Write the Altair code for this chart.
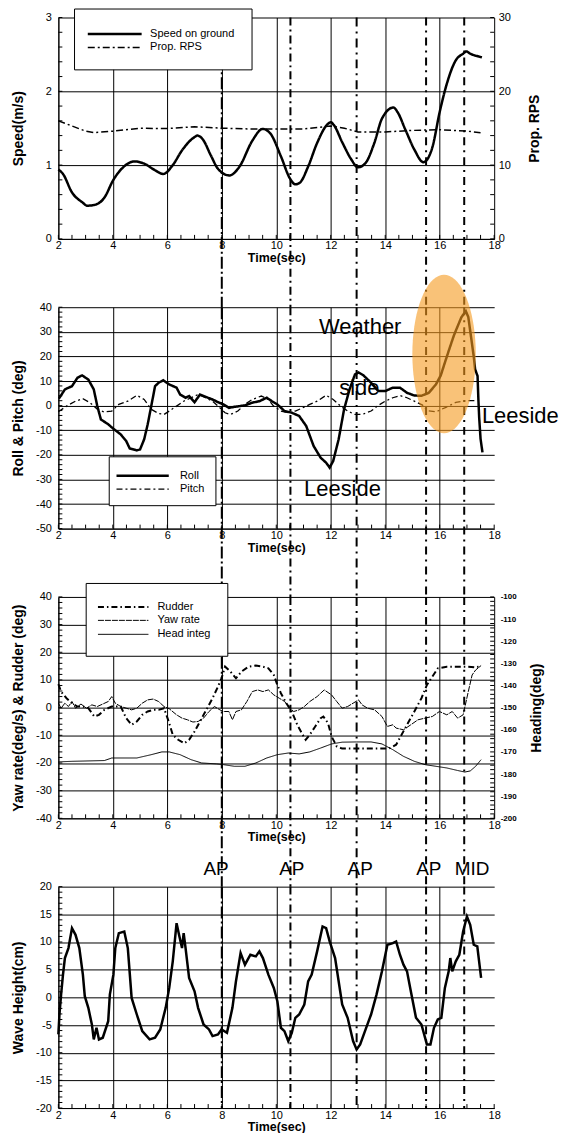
import altair as alt
import numpy as np
import pandas as pd

FONT = "Liberation Sans"
W, H, GAP = 437, 222, 68.5

# ---------------- data ----------------
speed_t = [2.0, 2.17, 2.5, 2.9, 3.05, 3.32, 3.69, 4.02, 4.35, 4.8, 5.15, 5.55, 5.85, 6.2, 6.54, 7.0, 7.1, 7.3,
           7.6, 7.86, 8.28, 8.65, 9.12, 9.5, 9.78, 10.17, 10.5, 10.7, 10.86, 11.17, 11.5, 11.9, 12.0, 12.1, 12.42,
           12.75, 13.0, 13.28, 13.6, 13.88, 14.3, 14.45, 14.74, 15.07, 15.4, 15.55, 15.73, 16.0, 16.26, 16.59,
           16.86, 16.98, 17.12, 17.45, 17.55]
speed_v = [0.94, 0.88, 0.63, 0.49, 0.45, 0.46, 0.56, 0.80, 0.96, 1.05, 1.02, 0.93, 0.88, 1.0, 1.2, 1.38, 1.40, 1.35,
           1.13, 0.95, 0.86, 0.98, 1.33, 1.49, 1.43, 1.12, 0.82, 0.74, 0.76, 0.98, 1.30, 1.56, 1.58, 1.55, 1.31,
           1.08, 0.97, 1.03, 1.30, 1.63, 1.78, 1.72, 1.48, 1.21, 1.04, 1.08, 1.24, 1.72, 2.10, 2.42,
           2.51, 2.54, 2.51, 2.47, 2.46]

rps_t = [2.0, 2.5, 3.0, 3.3, 4.0, 5.0, 6.0, 7.0, 8.0, 9.0, 10.0, 11.0, 12.0, 12.5, 13.0, 14.0, 15.0, 16.0, 17.0, 17.5]
rps_v = [16.0, 15.3, 14.6, 14.4, 14.6, 15.0, 14.95, 15.2, 15.0, 14.9, 14.9, 14.9, 15.3, 15.0, 14.5, 14.5, 14.7,
         14.8, 14.6, 14.4]

roll_t = [2.0, 2.04, 2.24, 2.5, 2.7, 2.87, 3.1, 3.3, 3.43, 3.56, 3.83, 4.02, 4.29, 4.49, 4.62, 4.88, 5.0, 5.15,
          5.28, 5.41, 5.55, 5.68, 5.85, 6.07, 6.34, 6.47, 6.67, 6.8, 7.0, 7.2, 7.4, 7.66, 7.86, 8.06, 8.26, 8.46,
          8.85, 9.12, 9.38, 9.65, 9.84, 10.04, 10.3, 10.57, 10.84, 11.1, 11.37, 11.63, 11.83, 11.96, 12.09, 12.29,
          12.49, 12.69, 12.89, 13.02, 13.2, 13.48, 13.75, 14.0, 14.28, 14.54, 14.8, 15.07, 15.33, 15.6, 15.86,
          16.04, 16.19, 16.35, 16.52, 16.66, 16.8, 16.96, 17.05, 17.15, 17.25, 17.3, 17.39, 17.42, 17.45, 17.5,
          17.57]
roll_v = [3.0, 3.2, 6.6, 7.9, 11.3, 12.3, 10.6, 6.6, -0.2, -5.6, -7.6, -9.4, -11.7, -14.4, -17.4, -18.2, -17.8,
          -13.7, -7.6, -0.2, 7.9, 9.3, 10.3, 8.6, 7.3, 4.5, 3.2, 3.9, 1.4, 4.5, 3.6, 2.5, 1.4, 0.5, -0.9, -0.5,
          0.1, 1.2, 1.8, 3.2, 1.8, 0.5, -2.2, -2.9, -4.2, -8.3, -16.4, -21.2, -23.2, -25.2, -22.5, -13.7,
          -1.5, 6.6, 12.7, 13.5, 12.3, 9.3, 5.9, 5.9, 7.3, 7.3, 5.2, 4.1, 4.0, 5.2, 8.6,
          12.3, 17.5, 22.9, 28.5, 32.3, 36.0, 38.4, 36.0, 28.0, 20.0, 14.8, 12.0, 2.6, -5.0, -13.5,
          -19.0]

pitch_t = [2.0, 2.04, 2.3, 2.63, 2.9, 3.16, 3.43, 3.69, 3.96, 4.22, 4.55, 4.88, 5.15, 5.41, 5.68, 5.88, 6.07,
           6.34, 6.6, 6.87, 7.13, 7.4, 7.66, 7.93, 8.12, 8.32, 8.59, 8.85, 9.12, 9.45, 9.71, 9.9, 10.17, 10.44,
           10.7, 10.97, 11.23, 11.5, 11.83, 12.09, 12.36, 12.62, 12.89, 13.15, 13.48, 13.75, 14.0, 14.28, 14.54,
           14.8, 15.07, 15.37, 15.55, 15.86, 16.23, 16.59, 16.96, 17.3]
pitch_v = [-2.5, -2.2, -0.2, 1.8, 2.8, 1.2, -1.5, -2.6, -2.2, 0.5, 1.8, 4.2, 2.5, -1.5, -3.2, -3.6, -2.2,
           -0.2, 1.8, 3.2, 4.5, 3.2, 1.8, -0.9, -2.9, -3.6, -2.2, 0.5, 2.5, 3.9, 2.5, -0.2, -2.2, -2.9,
           -2.2, -0.9, 0.5, 1.8, 4.2, 2.5, -0.2, -2.2, -3.6, -3.6, -2.2, 0.1, 1.8, 3.2, 4.1,
           3.2, 1.8, 0.2, -2.1, -2.5, -0.7, 1.3, 2.0, 2.0]

rudder_t = [2.0, 2.1, 2.3, 2.5, 2.7, 2.9, 3.1, 3.32, 3.49, 3.69, 3.96, 4.29, 4.49, 4.69, 4.88, 5.08, 5.28, 5.48,
            5.68, 5.88, 6.07, 6.2, 6.4, 6.62, 6.8, 7.0, 7.2, 7.4, 7.66, 7.86, 7.99, 8.12, 8.32, 8.52, 8.72, 8.98,
            9.25, 9.51, 9.71, 9.91, 10.04, 10.17, 10.37, 10.57, 10.77, 10.97, 11.08, 11.23, 11.43, 11.63, 11.73,
            11.9, 12.03, 12.22, 12.42, 12.82, 13.22, 13.75, 14.14, 14.4, 14.6, 14.8, 15.07, 15.33, 15.53, 15.73,
            15.93, 16.26, 16.66, 17.05, 17.32, 17.5]
rudder_v = [8.5, 5.8, 3.4, 1.6, 0.4, 0.4, -0.2, -3.2, -2.6, -0.8, 0.4, 0.4, -3.8, -6.2, -5.0, -2.6, -1.4, -0.8,
            -0.8, -0.2, -5.6, -9.8, -11.6, -12.9, -11.6, -8.6, -5.0, -1.4, 3.4, 7.6, 10.6, 14.8, 13.0, 10.6, 13.0,
            14.8, 15.2, 14.8, 14.2, 11.8, 8.2, 5.2, 1.6, -1.4, -6.2, -9.8, -11.6, -9.8, -6.8, -3.8, -3.2,
            -5.6, -10.4, -14.0, -14.8, -14.8, -14.8, -14.8, -14.8, -13.4, -9.8, -6.2, -1.4, 3.4, 8.2, 11.2,
            14.2, 14.8, 14.8, 14.8, 14.5, 15.0]

yaw_t = [2.0, 2.1, 2.24, 2.37, 2.5, 2.63, 2.83, 3.03, 3.23, 3.43, 3.63, 3.83, 3.96, 4.09, 4.29, 4.49, 4.69, 4.88,
         5.08, 5.28, 5.48, 5.68, 5.88, 6.07, 6.34, 6.54, 6.74, 6.94, 7.13, 7.33, 7.53, 7.73, 7.93, 8.06, 8.26,
         8.39, 8.52, 8.72, 8.92, 9.12, 9.32, 9.51, 9.71, 9.91, 10.11, 10.31, 10.44, 10.64, 10.84, 11.03, 11.23,
         11.5, 11.76, 12.03, 12.22, 12.42, 12.62, 12.82, 13.02, 13.15, 13.35, 13.61, 13.88, 14.08, 14.28, 14.4,
         14.67, 14.94, 15.2, 15.46, 15.73, 15.99, 16.26, 16.46, 16.66, 16.86, 17.05, 17.19, 17.32, 17.52]
yaw_v = [1.6, -0.2, 1.6, 0.4, 2.2, -0.2, 1.3, -0.2, 1.0, 0.4, 1.3, 2.2, 4.0, 1.6, 0.4, -0.2, -0.8, -0.2,
         1.6, 2.8, 3.1, 2.2, 0.4, -0.4, -2.6, -3.8, -4.4, -5.2, -5.0, -3.8, -1.4, 0.4, -0.8, -1.4, -1.4,
         -4.4, -1.4, -0.8, 2.2, 5.8, 6.4, 5.8, 6.4, 4.6, 3.4, 2.2, 0.4, -1.4, -0.8, 0.4, 2.2,
         4.0, 6.4, 4.6, 2.2, -0.2, 0.4, 1.6, 2.8, 1.0, -0.2, -0.8, -3.2, -6.8, -6.2, -7.4,
         -8.0, -6.2, -4.4, -3.8, -3.2, -1.4, -2.6, -1.4, -3.8, -2.6, 5.8, 11.8, 13.6, 15.2]

head_t = [2.0, 2.5, 3.69, 3.96, 4.3, 4.88, 5.41, 5.8, 6.07, 6.47, 6.87, 7.26, 7.8, 8.06, 8.46, 8.85, 9.25, 9.65,
          10.04, 10.44, 10.84, 11.23, 11.63, 12.03, 12.42, 12.95, 13.48, 13.88, 14.28, 14.67, 15.07, 15.46,
          15.86, 16.26, 16.66, 16.92, 17.12, 17.32, 17.52]
head_v = [-174.5, -174.25, -173.9, -172.75, -172.75, -172.75, -171.25, -170.0, -170.0, -171.25, -173.5, -175.0,
          -175.4, -175.75, -176.5, -176.5, -175.0, -172.75, -171.25, -170.5, -170.9, -170.0, -168.25, -166.4,
          -165.6, -165.5, -165.5, -166.4, -169.0, -172.0, -174.25, -175.75, -176.5, -177.25, -178.4, -179.1,
          -178.6, -176.5, -173.5]

wave_t = [2.0, 2.04, 2.1, 2.17, 2.24, 2.37, 2.5, 2.63, 2.77, 2.9, 2.97, 3.1, 3.23, 3.3, 3.4, 3.49, 3.63, 3.83,
          3.89, 4.02, 4.09, 4.22, 4.42, 4.55, 4.69, 4.88, 5.08, 5.35, 5.55, 5.74, 5.94, 6.07, 6.2, 6.34, 6.43,
          6.54, 6.6, 6.67, 6.8, 7.0, 7.13, 7.33, 7.53, 7.66, 7.86, 7.99, 8.19, 8.39, 8.52, 8.69, 8.85, 9.05,
          9.25, 9.38, 9.51, 9.71, 9.91, 10.04, 10.17, 10.3, 10.44, 10.57, 10.7, 10.84, 11.03, 11.17, 11.3,
          11.5, 11.7, 11.83, 11.96, 12.16, 12.29, 12.42, 12.62, 12.82, 12.95, 13.08, 13.28, 13.48, 13.68,
          13.88, 14.08, 14.28, 14.4, 14.54, 14.67, 14.8, 14.94, 15.13, 15.33, 15.53, 15.66, 15.79, 15.93,
          16.06, 16.19, 16.33, 16.39, 16.46, 16.59, 16.72, 16.86, 17.0, 17.12, 17.25, 17.38, 17.52]
wave_v = [-6.7, -3.1, 0.5, 4.1, 7.1, 8.9, 12.5, 11.3, 8.9, 4.1, 0.2, -1.9, -4.9, -7.6, -5.5, -7.6, -7.3, -4.3,
          0.5, 4.1, 8.9, 11.6, 11.9, 8.9, -0.1, -3.1, -6.1, -7.6, -7.3, -5.8, -1.9, 1.7, 6.5, 13.4, 11.3,
          8.9, 11.6, 8.9, 3.5, 1.1, -1.9, -4.9, -5.8, -7.0, -6.7, -5.8, -6.4, -1.9, 2.9, 8.0, 5.9, 7.7,
          7.4, 8.3, 7.1, 4.1, 1.7, -0.7, -5.5, -6.1, -7.9, -6.4, -3.7, -3.1, -1.3, 2.9, 4.1,
          8.3, 12.8, 12.5, 10.1, 7.1, 2.9, -1.3, -3.7, -7.9, -9.4, -8.5, -5.8, -3.1, 0.5,
          4.7, 9.5, 9.8, 10.1, 7.7, 5.9, 4.7, 1.1, -3.7, -4.9, -8.5, -8.5, -5.5, -4.0,
          -3.7, 1.7, 4.7, 7.1, 4.7, 6.5, 7.7, 11.9, 14.6, 13.1, 9.5, 9.2, 3.5]

# event lines (time, sec) and labels
event_t = [8.0, 10.52, 12.95, 15.5, 16.9]
event_label_t = [7.79, 10.57, 13.08, 15.6, 17.19]
event_labels = ["AP", "AP", "AP", "AP", "MID"]

# panel-2 annotations
note_t = [13.08, 13.05, 12.43, 18.96]
note_v = [32.0, 7.3, -33.8, -4.3]
note_text = ["Weather", "side", "Leeside", "Leeside"]
ellipse_t, ellipse_v = [16.16], [21.0]

# axis tick values
x_major = list(range(2, 19, 2))
x_minor = [float(v) for v in np.arange(2, 18.01, 0.5)]

# ---------------- helpers ----------------
XS = alt.Scale(domain=[2, 18], nice=False, zero=False)
DASHES = [[12, 3, 2, 3], [8, 4, 2, 4], [9, 5, 2, 5], [8, 5, 2, 5], [8, 5, 2, 5]]


def x_axis():
    return alt.Axis(values=x_major, title="Time(sec)", grid=True, gridColor="black", gridWidth=1,
                    gridOpacity={"condition": {"test": "datum.value === 18", "value": 0}, "value": 1},
                    domainColor="black", domainWidth=1, ticks=False, labelFont=FONT, labelFontSize=11,
                    labelPadding=1, labelColor="black", labelFlush=False, titleFont=FONT, titleFontSize=12.5,
                    titleFontWeight="bold", titleColor="black", titleY=18.6, titleBaseline="middle")


def y_axis(values, title, orient="left", grid=True, label_size=11, title_x=-40, label_pad=7, bold=False):
    return alt.Axis(values=values, title=title, orient=orient, grid=grid, gridColor="black", gridWidth=1,
                    domainColor="black", domainWidth=1, ticks=False, labelFont=FONT, labelFontSize=label_size,
                    labelFontWeight="bold" if bold else "normal",
                    labelPadding=label_pad, labelColor="black", labelExpr="'' + datum.value",
                    titleFont=FONT, titleFontSize=14, titleFontWeight="bold", titleColor="black",
                    titleX=title_x, titleY=H / 2, titleAngle=270, titleBaseline="middle", titleAlign="center")


def X(xa):
    return alt.X("t:Q", scale=XS, axis=xa)


def Y(ydom, ya):
    return alt.Y("v:Q", scale=alt.Scale(domain=ydom, nice=False, zero=False), axis=ya)


def df(t, v, name=None):
    d = pd.DataFrame({"t": t, "v": v})
    if name is not None:
        d["series"] = name
    return d


def series_line(t, v, name, ydom, ya, xa, names, dashes, widths, legend, interp="linear"):
    return alt.Chart(df(t, v, name)).mark_line(color="black", interpolate=interp).encode(
        x=X(xa), y=Y(ydom, ya),
        strokeDash=alt.StrokeDash("series:N", scale=alt.Scale(domain=names, range=dashes), legend=legend),
        strokeWidth=alt.StrokeWidth("series:N", scale=alt.Scale(type="ordinal", domain=names, range=widths),
                                    legend=legend),
    )


def y_minor(vals, ydom, ya, side="left"):
    x0, x1 = (0, 4) if side == "left" else (W - 4, W)
    return alt.Chart(pd.DataFrame({"v": [float(a) for a in vals]})).mark_rule(color="black", strokeWidth=1).encode(
        y=Y(ydom, ya), x=alt.value(x0), x2=alt.value(x1))


def x_minor_ticks(xa):
    return alt.Chart(pd.DataFrame({"t": x_minor})).mark_rule(color="black", strokeWidth=1).encode(
        x=X(xa), y=alt.value(H - 4), y2=alt.value(H))


def event_lines(bottom, xa):
    out = []
    for t, dash in zip(event_t, DASHES):
        out.append(alt.Chart(pd.DataFrame({"t": [t]})).mark_rule(
            color="black", strokeWidth=2, strokeDash=dash).encode(
            x=X(xa), y=alt.value(0), y2=alt.value(bottom)))
    return out


def legend(x, y, pad, start, symlen, gap, rowpad):
    # nominal 14px symbol keeps rows compact; the drawn stroke is symlen long
    half = symlen / 14.0
    sym_off = start - pad - 2 + symlen / 2 - 7
    lab_off = (start + symlen + gap) - (pad + 16 + sym_off)
    return alt.Legend(title=None, orient="none", legendX=x, legendY=y, direction="vertical",
                      strokeColor="black", fillColor="white", padding=pad,
                      symbolType=f"M{-half:.3f},0L{half:.3f},0", symbolSize=196,
                      symbolOffset=sym_off, labelOffset=lab_off,
                      symbolStrokeColor="black", labelFont=FONT, labelFontSize=11, labelColor="black",
                      rowPadding=rowpad)


# ---------------- panel 1 : speed / prop RPS ----------------
n1 = ["Speed on ground", "Prop. RPS"]
d1 = [[1, 0], [7, 3, 2, 3]]
w1 = [2.5, 1.5]
lg1 = legend(15.7, -9, 17, 14.3, 54, 7, -2.5)
xa1 = x_axis()
ya1 = y_axis([0, 1, 2, 3], "Speed(m/s)")
yr1 = y_axis([0, 10, 20, 30], "Prop. RPS", orient="right", grid=False, title_x=40, label_pad=4)
p1_left = alt.layer(
    series_line(speed_t, speed_v, n1[0], [0, 3], ya1, xa1, n1, d1, w1, lg1, interp="monotone"),
    y_minor(np.arange(0, 3.01, 0.2), [0, 3], ya1),
    x_minor_ticks(xa1),
    *event_lines(H + GAP, xa1),
)
p1_right = alt.layer(
    series_line(rps_t, rps_v, n1[1], [0, 30], yr1, xa1, n1, d1, w1, lg1),
    y_minor(np.arange(0, 30.1, 2), [0, 30], yr1, side="right"),
)
panel1 = alt.layer(p1_left, p1_right).resolve_scale(y="independent").properties(width=W, height=H)

# ---------------- panel 2 : roll / pitch ----------------
n2 = ["Roll", "Pitch"]
d2 = [[1, 0], [6, 3, 2, 3]]
w2 = [2.5, 1.3]
lg2 = legend(50.5, 149.5, 11, 8.3, 52.4, 9.7, -1.5)
R2 = [-50, 40]
xa2 = x_axis()
ya2 = y_axis(list(range(-50, 41, 10)), "Roll & Pitch (deg)")
ELL = "M" + " L".join(f"{0.4 * np.cos(a):.4f},{np.sin(a):.4f}" for a in np.linspace(0, 2 * np.pi, 73)) + " Z"
panel2 = alt.layer(
    series_line(roll_t, roll_v, n2[0], R2, ya2, xa2, n2, d2, w2, lg2),
    series_line(pitch_t, pitch_v, n2[1], R2, ya2, xa2, n2, d2, w2, lg2),
    y_minor(np.arange(-50, 40.1, 2), R2, ya2),
    x_minor_ticks(xa2),
    *event_lines(H + GAP, xa2),
    alt.Chart(df(ellipse_t, ellipse_v)).mark_point(
        shape=ELL, size=159 * 159, filled=True, color="#F59A1E", opacity=0.6, strokeWidth=0).encode(
        x=X(xa2), y=Y(R2, ya2)),
    alt.Chart(pd.DataFrame({"t": note_t, "v": note_v, "txt": note_text})).mark_text(
        font=FONT, fontSize=22, color="black", align="center", baseline="middle").encode(
        x=X(xa2), y=Y(R2, ya2), text="txt:N"),
).properties(width=W, height=H)

# ---------------- panel 3 : rudder / yaw rate / heading ----------------
n3 = ["Rudder", "Yaw rate", "Head integ"]
d3 = [[6, 3, 1.5, 3], [6, 1], [1, 0]]
w3 = [2, 1, 1]
lg3 = legend(27.4, -14, 16, 13.3, 50.6, 8, 1)
R3 = [-40, 40]
HD = [-200, -100]
xa3 = x_axis()
ya3 = y_axis(list(range(-40, 41, 10)), "Yaw rate(deg/s)  & Rudder (deg)")
yr3 = y_axis(list(range(-200, -99, 10)), "Heading(deg)", orient="right", grid=False,
             label_size=8, title_x=42.5, label_pad=6, bold=True)
p3_left = alt.layer(
    series_line(rudder_t, rudder_v, n3[0], R3, ya3, xa3, n3, d3, w3, lg3),
    series_line(yaw_t, yaw_v, n3[1], R3, ya3, xa3, n3, d3, w3, lg3),
    y_minor(np.arange(-40, 40.1, 2), R3, ya3),
    x_minor_ticks(xa3),
    *event_lines(H + GAP, xa3),
)
p3_right = alt.layer(
    series_line(head_t, head_v, n3[2], HD, yr3, xa3, n3, d3, w3, lg3),
    y_minor(np.arange(-200, -99, 2), HD, yr3, side="right"),
)
panel3 = alt.layer(p3_left, p3_right).resolve_scale(y="independent").properties(width=W, height=H)

# ---------------- panel 4 : wave height ----------------
R4 = [-20, 20]
xa4 = x_axis()
ya4 = y_axis(list(range(-20, 21, 5)), "Wave Height(cm)")
panel4 = alt.layer(
    alt.Chart(df(wave_t, wave_v)).mark_line(color="black", strokeWidth=2.5).encode(x=X(xa4), y=Y(R4, ya4)),
    y_minor(np.arange(-20, 20.1, 1), R4, ya4),
    x_minor_ticks(xa4),
    *event_lines(H, xa4),
    alt.Chart(pd.DataFrame({"t": event_label_t, "v": [23.2] * 5, "txt": event_labels})).mark_text(
        font=FONT, fontSize=19, color="black", align="center", baseline="middle").encode(
        x=X(xa4), y=Y(R4, ya4), text="txt:N"),
).properties(width=W, height=H)

chart = alt.vconcat(panel1, panel2, panel3, panel4, spacing=GAP, bounds="flush").resolve_scale(
    strokeDash="independent", strokeWidth="independent").resolve_legend(
    strokeDash="independent", strokeWidth="independent").properties(
    padding={"left": 2.5, "top": -2, "right": 0, "bottom": 0}).configure_view(stroke=None)

chart.save("out.html", embed_options={"renderer": "svg", "actions": False})
